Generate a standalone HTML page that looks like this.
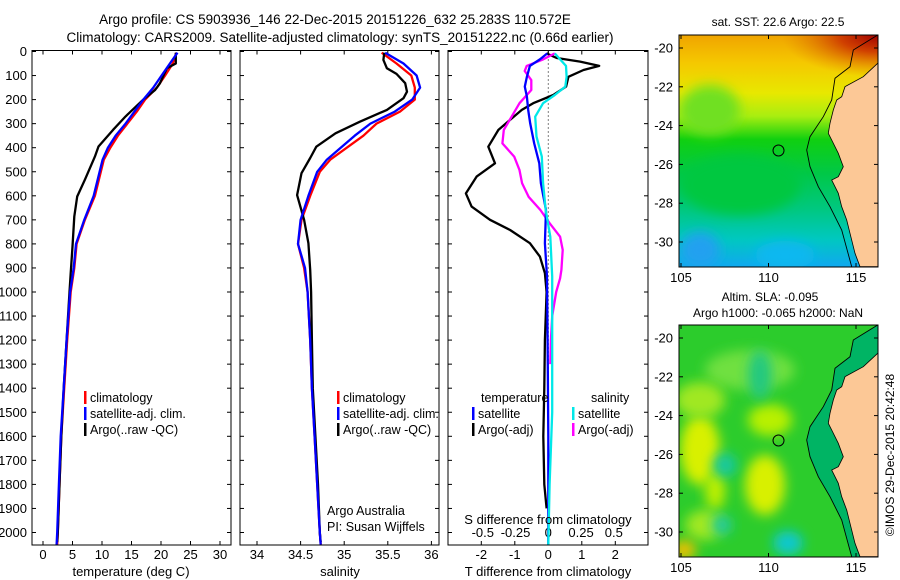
<!DOCTYPE html>
<html><head><meta charset="utf-8"><style>
html,body{margin:0;padding:0;background:#fff}
svg{display:block;font-family:"Liberation Sans",sans-serif}
</style></head><body>
<svg id="fig" width="900" height="580" viewBox="0 0 900 580">
<defs>
<linearGradient id="sstg" x1="0" y1="0" x2="0" y2="1">
<stop offset="0" stop-color="#f0a400"/><stop offset="0.12" stop-color="#f5c800"/><stop offset="0.25" stop-color="#e8e800"/>
<stop offset="0.35" stop-color="#a8ee10"/><stop offset="0.45" stop-color="#10d010"/><stop offset="0.6" stop-color="#00c848"/>
<stop offset="0.75" stop-color="#00c880"/><stop offset="0.88" stop-color="#00c8c0"/><stop offset="1" stop-color="#10a8f0"/>
</linearGradient>
<radialGradient id="hotg" cx="1" cy="0" r="0.7"><stop offset="0" stop-color="#a00000"/><stop offset="0.4" stop-color="#d04000"/><stop offset="1" stop-color="#e08000" stop-opacity="0"/></radialGradient>
<filter id="blur" x="-50%" y="-50%" width="200%" height="200%"><feGaussianBlur stdDeviation="6"/></filter>
<clipPath id="c1"><rect x="679" y="35" width="199" height="232"/></clipPath>
<clipPath id="c2"><rect x="679" y="325" width="199" height="232"/></clipPath>
</defs>
<text x="335" y="24" font-size="13.5" text-anchor="middle">Argo profile: CS 5903936_146 22-Dec-2015 20151226_632 25.283S 110.572E</text>
<text x="340" y="42" font-size="13.5" text-anchor="middle">Climatology: CARS2009. Satellite-adjusted climatology: synTS_20151222.nc (0.66d earlier)</text>
<g id="charts"></g>
<g id="maps"></g>
</svg>
<script>
// ---- profile data ----
const depthClim = [5,50,100,150,200,250,300,350,400,450,500,600,700,800,900,1000,1200,1400,1600,1800,2000,2050];
const tClim = [22.6,22.0,20.7,19.3,17.3,15.9,14.3,12.7,11.4,10.3,9.8,8.8,7.1,5.7,5.3,4.7,4.1,3.6,3.1,2.8,2.5,2.4];
const tSat = [22.8,21.5,20.1,18.7,17.0,15.5,14.0,12.3,11.0,10.1,9.6,8.6,7.0,5.6,5.2,4.6,4.0,3.5,3.0,2.7,2.4,2.3];
const depthArgoT = [5,50,70,133,160,200,270,325,395,437,533,603,686,811,922,1000,1200,1400,1600,1800,2000,2040];
const tArgo = [22.5,22.5,21,19.8,19,17,14,11.9,9.4,8.8,7.1,5.8,5.3,5.0,4.7,4.5,4.0,3.5,3.1,2.8,2.5,2.4];
const sClim = [35.43,35.6,35.77,35.81,35.81,35.64,35.37,35.22,35.03,34.84,34.72,34.61,34.51,34.47,34.54,34.58,34.61,34.63,34.66,34.69,34.72,34.73];
const sSat = [35.47,35.68,35.83,35.87,35.78,35.58,35.3,35.12,34.96,34.8,34.69,34.59,34.5,34.47,34.55,34.58,34.61,34.63,34.66,34.69,34.72,34.73];
const depthArgoS = [5,35,70,93,132,167,194,243,292,340,396,443,506,597,700,797,908,1000,1200,1400,1600,1800,2000,2040];
const sArgo = [35.46,35.45,35.49,35.6,35.70,35.72,35.68,35.49,35.18,34.9,34.68,34.61,34.51,34.46,34.54,34.59,34.61,34.62,34.63,34.64,34.67,34.70,34.72,34.73];
const depthDTArgo = [8,27,42,60,77,105,146,181,215,243,278,326,396,465,520,590,645,700,742,797,853,922,1000,1200,1400,1600,1800,1900];
const dTArgo = [-0.05,0.25,0.95,1.52,1.05,0.6,0.53,0.15,-0.45,-0.79,-1.09,-1.49,-1.79,-1.59,-2.14,-2.46,-2.29,-1.74,-1.14,-0.55,-0.25,-0.1,-0.05,-0.1,-0.12,-0.15,-0.12,-0.05];
const depthDTSat = [8,33,60,105,146,188,243,299,382,465,548,659,797,936,1200,1600,2050];
const dTSat = [-0.03,-0.25,-0.55,-0.64,-0.7,-0.64,-0.6,-0.54,-0.42,-0.27,-0.22,-0.07,-0.1,-0.04,-0.02,0,0];
const depthDSSat = [8,33,60,105,146,181,215,271,354,437,548,659,770,936,1200,1500,1800,2050];
const dSSat = [0.05,0.09,0.135,0.14,0.13,0.05,-0.04,-0.1,-0.09,-0.05,-0.04,-0.02,0.015,0.03,0.03,0.03,0.01,0.0];
const depthDSArgo = [8,33,60,81,119,160,215,271,326,382,437,493,548,604,659,714,770,825,908,943,1000,1100,1200,1300];
const dSArgo = [0.05,-0.04,-0.165,-0.18,-0.13,-0.13,-0.22,-0.28,-0.34,-0.35,-0.26,-0.22,-0.2,-0.15,-0.06,0.01,0.09,0.11,0.1,0.09,0.06,0.03,0.02,0.015];
const depthTicks = [0,100,200,300,400,500,600,700,800,900,1000,1100,1200,1300,1400,1500,1600,1700,1800,1900,2000];
const tTicks = [0,5,10,15,20,25,30];
const sTicks = [34,34.5,35,35.5,36];
const sTickLabels = ["34","34.5","35","35.5","36"];
const dTTicks = [-2,-1,0,1,2];
const dSTicks = [-0.5,-0.25,0,0.25,0.5];
const dSTickLabels = ["-0.5","-0.25","0","0.25","0.5"];

const NS = "http://www.w3.org/2000/svg";
const Y0 = 51.5, YB = 545, PPM = 0.2405;
const yD = d => Y0 + d * PPM;
const xT = v => 43 + v * 5.9;
const xS = v => 257 + (v - 34) * 87.2;
const xDT = v => 548.3 + v * 33.5;
const xDS = v => 548.3 + v * 131;
const G = document.getElementById('charts');
function mk(tag, attrs, parent, text) {
  const e = document.createElementNS(NS, tag);
  for (const k in attrs) e.setAttribute(k, attrs[k]);
  if (text !== undefined) e.textContent = text;
  (parent || G).appendChild(e);
  return e;
}
const panels = [[32,231],[240,439],[448,648]];
panels.forEach((p, i) => {
  const r = mk('rect', {x:p[0], y:Y0-1, width:p[1]-p[0], height:YB-Y0+1, fill:'none', stroke:'#000', 'stroke-width':1});
  
  
  depthTicks.forEach(d => {
    mk('line', {x1:p[0], x2:p[0]+4, y1:yD(d), y2:yD(d), stroke:'#000'});
    mk('line', {x1:p[1]-4, x2:p[1], y1:yD(d), y2:yD(d), stroke:'#000'});
  });
});
depthTicks.forEach(d => {
  const t = mk('text', {x:27, y:yD(d)+4.5, 'font-size':13, 'text-anchor':'end'}, G, String(d));
  
  
});
function xticks(vals, labels, fx, ylab) {
  vals.forEach((v, i) => {
    const x = fx(v);
    mk('line', {x1:x, x2:x, y1:YB, y2:YB-4, stroke:'#000'});
    mk('line', {x1:x, x2:x, y1:Y0-1, y2:Y0+3, stroke:'#000'});
    const t = mk('text', {x:x, y:ylab, 'font-size':13, 'text-anchor':'middle'}, G, labels[i]);
    
    
  });
}
xticks(tTicks, tTicks.map(String), xT, 559);
xticks(sTicks, sTickLabels, xS, 559);
xticks(dTTicks, dTTicks.map(String), xDT, 559);
dSTicks.forEach((v, i) => {
  const t = mk('text', {x:xDS(v), y:537, 'font-size':13, 'text-anchor':'middle'}, G, dSTickLabels[i]);
  
  
});
const zl = mk('line', {x1:xDT(0), x2:xDT(0), y1:Y0, y2:YB, stroke:'#000', 'stroke-dasharray':'1,3'});


function series(depths, vals, fx, color, name) {
  const pts = depths.map((d, i) => fx(vals[i]).toFixed(1) + ',' + yD(d).toFixed(1)).join(' ');
  const l = mk('polyline', {points:pts, fill:'none', stroke:color, 'stroke-width':2.3, 'stroke-linejoin':'round'});
  
  
}
series(depthClim, tClim, xT, '#ff0000', 'temp-climatology-line');
series(depthArgoT, tArgo, xT, '#000000', 'temp-argo-line');
series(depthClim, tSat, xT, '#0000ff', 'temp-satellite-line');
series(depthClim, sClim, xS, '#ff0000', 'sal-climatology-line');
series(depthArgoS, sArgo, xS, '#000000', 'sal-argo-line');
series(depthClim, sSat, xS, '#0000ff', 'sal-satellite-line');
series(depthDTArgo, dTArgo, xDT, '#000000', 'tdiff-argo-line');
series(depthDSArgo, dSArgo, xDS, '#ff00ff', 'sdiff-argo-line');
series(depthDTSat, dTSat, xDT, '#0000ff', 'tdiff-satellite-line');
series(depthDSSat, dSSat, xDS, '#00e8e8', 'sdiff-satellite-line');
[[131,'temperature (deg C)'],[340,'salinity'],[548,'T difference from climatology']].forEach(a => {
  const t = mk('text', {x:a[0], y:576, 'font-size':13, 'text-anchor':'middle'}, G, a[1]);
  
  
});
const st = mk('text', {x:548, y:524, 'font-size':13, 'text-anchor':'middle'}, G, 'S difference from climatology');


function legend(x, y, color, label) {
  mk('rect', {x:x, y:y-11, width:2.5, height:13, fill:color});
  const t = mk('text', {x:x+6, y:y, 'font-size':12.5}, G, label);
  
  
}
[84,337].forEach(x => {
  legend(x, 402, '#ff0000', 'climatology');
  legend(x, 418, '#0000ff', 'satellite-adj. clim.');
  legend(x, 434, '#000000', 'Argo(..raw -QC)');
});
mk('text', {x:481, y:402, 'font-size':12.5}, G, 'temperature');
mk('text', {x:591, y:402, 'font-size':12.5}, G, 'salinity');
legend(472, 418, '#0000ff', 'satellite');
legend(472, 434, '#000000', 'Argo(-adj)');
legend(572, 418, '#00e8e8', 'satellite');
legend(572, 434, '#ff00ff', 'Argo(-adj)');
const a1 = mk('text', {x:327, y:515, 'font-size':12.5}, G, 'Argo Australia');


mk('text', {x:327, y:531, 'font-size':12.5}, G, 'PI: Susan Wijffels');

// ---- maps ----
const M = document.getElementById('maps');
const lonTicks = [105,110,115];
const latTicks = [-20,-22,-24,-26,-28,-30];
const argoLon = 110.572, argoLat = -25.283;
const xL = lon => 681 + (lon - 105) * 17.5;
const coast = [[683,190],[640,230],[585,260],[575,290],[560,300],[550,330],[540,370],[535,400],[545,420],[565,460],[580,500],[565,530],[545,540],[565,580],[575,620],[590,660],[600,700],[615,760],[630,800],[700,800],[700,190]];
const iso = [[683,105],[610,150],[600,200],[555,235],[545,300],[520,350],[480,410],[470,450],[480,500],[505,560],[540,620],[575,690],[605,800]];
function mapFrame(top, id, kind) {
  const yLat = lat => top + 13 + (-20 - lat) * 19.4;
  const g = mk('g', {'clip-path':'url(#c'+id+')'}, M);
  
  
  if (kind === 'sst') {
    mk('rect', {x:679, y:top, width:199, height:232, fill:'url(#sstg)'}, g);
    mk('rect', {x:740, y:top, width:138, height:60, fill:'url(#hotg)'}, g);
    mk('ellipse', {cx:710, cy:top+75, rx:30, ry:25, fill:'#70e020', filter:'url(#blur)'}, g);
    mk('ellipse', {cx:740, cy:top+150, rx:60, ry:30, fill:'#00c840', filter:'url(#blur)'}, g);
    mk('ellipse', {cx:785, cy:top+220, rx:30, ry:14, fill:'#10b8f0', filter:'url(#blur)'}, g);
    mk('ellipse', {cx:700, cy:top+215, rx:20, ry:18, fill:'#20a0f0', filter:'url(#blur)'}, g);
  } else {
    mk('rect', {x:679, y:top, width:199, height:232, fill:'#2ccc2c'}, g);
    [[700,top+125,20,35,'#d8f000'],[750,top+45,45,20,'#70e040'],[700,top+75,25,18,'#a0e820'],[770,top+95,22,16,'#b8f000'],[765,top+160,20,30,'#d8f000'],[715,top+165,10,20,'#c0f000'],[705,top+200,20,15,'#a0e820'],[725,top+140,12,12,'#18c8a0'],[722,top+200,10,10,'#18c8a0'],[788,top+218,15,12,'#10c8d0'],[760,top+50,12,25,'#20c880'],[684,top+225,12,10,'#f0c000']].forEach(b => {
      mk('ellipse', {cx:b[0], cy:b[1], rx:b[2], ry:b[3], fill:b[4], filter:'url(#blur)'}, g);
    });
  }
  const toXY = p => (650 + p[0]/3).toFixed(1) + ',' + (top - 35 + p[1]/3).toFixed(1);
  const shelf = iso.map(toXY).concat(coast.slice().reverse().slice(2).map(toXY));
  mk('polygon', {points:shelf.join(' '), fill: kind === 'sst' ? 'none' : '#00b464'}, g);
  mk('polygon', {points:coast.map(toXY).join(' '), fill:'#fcc896', stroke:'#000', 'stroke-width':0.8}, g);
  mk('polyline', {points:iso.map(toXY).join(' '), fill:'none', stroke:'#000', 'stroke-width':0.9}, g);
  const c = mk('circle', {cx:xL(argoLon), cy:yLat(argoLat), r:5.5, fill:'none', stroke:'#000', 'stroke-width':1}, M);
  
  
  mk('rect', {x:679, y:top, width:199, height:232, fill:'none', stroke:'#000'}, M);
  lonTicks.forEach(l => {
    mk('line', {x1:xL(l), x2:xL(l), y1:top, y2:top+4, stroke:'#000'}, M);
    mk('line', {x1:xL(l), x2:xL(l), y1:top+232, y2:top+228, stroke:'#000'}, M);
    mk('text', {x:xL(l), y:top+247, 'font-size':13, 'text-anchor':'middle'}, M, String(l));
  });
  latTicks.forEach(l => {
    mk('line', {x1:679, x2:683, y1:yLat(l), y2:yLat(l), stroke:'#000'}, M);
    mk('line', {x1:874, x2:878, y1:yLat(l), y2:yLat(l), stroke:'#000'}, M);
    mk('text', {x:673, y:yLat(l)+4.5, 'font-size':13, 'text-anchor':'end'}, M, String(l));
  });
}
mapFrame(35, 1, 'sst');
mapFrame(325, 2, 'sla');
const mt1 = mk('text', {x:778, y:26, 'font-size':12, 'text-anchor':'middle'}, M, 'sat. SST: 22.6 Argo: 22.5');


const mt2 = mk('text', {x:770, y:301, 'font-size':12, 'text-anchor':'middle'}, M, 'Altim. SLA: -0.095');


mk('text', {x:778, y:317, 'font-size':12, 'text-anchor':'middle'}, M, 'Argo h1000: -0.065 h2000: NaN');
const ts = mk('text', {x:0, y:0, 'font-size':12, 'text-anchor':'middle', transform:'translate(894,455) rotate(-90)'}, M, '©IMOS 29-Dec-2015 20:42:48');


</script>
</body></html>
